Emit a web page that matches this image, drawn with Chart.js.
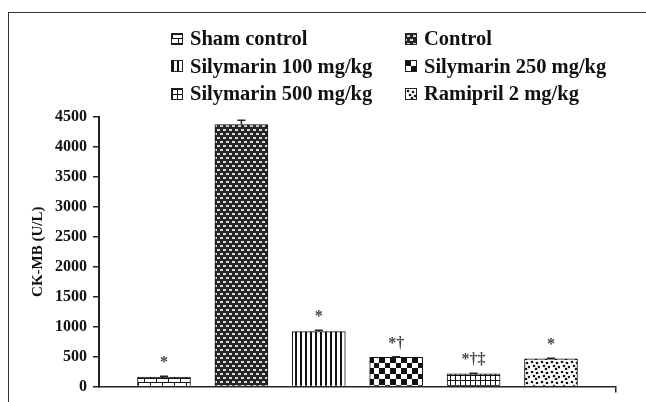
<!DOCTYPE html>
<html>
<head>
<meta charset="utf-8">
<script src="https://cdn.jsdelivr.net/npm/chart.js@4.4.1/dist/chart.umd.min.js"></script>
<style>
  html, body { margin: 0; padding: 0; background: #fff; }
  #wrap { position: relative; width: 646px; height: 402px; overflow: hidden; }
  #frame { position: absolute; left: 8px; top: 12px; width: 700px; height: 500px;
           border-left: 1.5px solid #333; border-top: 1.5px solid #333; }
  #chart { position: absolute; left: 0; top: 0; }
  #legend { position: absolute; left: 0; top: 0; width: 646px; height: 110px;
            font-family: "Liberation Serif", "Times New Roman", serif; font-weight: bold;
            font-size: 20.5px; color: #111; }
  .item { position: absolute; display: flex; align-items: center; white-space: nowrap; }
  .item canvas { border: 1px solid #222; margin-right: 7px; }
</style>
</head>
<body>
<div id="wrap">
  <div id="frame"></div>
  <canvas id="chart" width="646" height="402"></canvas>
  <div id="legend"></div>
</div>
<script>
// Groups, mean CK-MB (U/L), SEM and significance marks
const groups = ["Sham control", "Control", "Silymarin 100 mg/kg", "Silymarin 250 mg/kg", "Silymarin 500 mg/kg", "Ramipril 2 mg/kg"];
const ckmb = [155, 4375, 915, 485, 210, 460];
const sem = [15, 70, 25, 10, 10, 10];
const marks = ["*", "", "*", "*\u2020", "*\u2020\u2021", "*"];
const yTicks = [0, 500, 1000, 1500, 2000, 2500, 3000, 3500, 4000, 4500];
const fills = ["brick", "weave", "vstripe", "checker", "grid", "dots"];

function tile(w, h, paint) {
  const c = document.createElement("canvas");
  c.width = w; c.height = h;
  const g = c.getContext("2d");
  g.fillStyle = "#fff"; g.fillRect(0, 0, w, h);
  paint(g);
  return c;
}
const painters = {
  brick: () => tile(12, 9, g => {
    g.fillStyle = "#111";
    g.fillRect(0, 0, 12, 1); g.fillRect(0, 4, 12, 1);
    g.fillRect(0, 0, 1, 5); g.fillRect(6, 4, 1, 5);
  }),
  weave: () => tile(6, 8, g => {
    g.fillStyle = "#262626"; g.fillRect(0, 0, 6, 8);
    g.fillStyle = "#d8d8d8";
    g.fillRect(1, 1, 3, 2);
    g.fillRect(4, 5, 2, 2); g.fillRect(0, 5, 1, 2);
  }),
  vstripe: () => tile(5, 4, g => { g.fillStyle = "#111"; g.fillRect(0, 0, 2, 4); }),
  checker: () => tile(11, 11, g => {
    g.fillStyle = "#111"; g.fillRect(0, 0, 5, 5); g.fillRect(5, 5, 6, 6);
  }),
  grid: () => tile(5, 5, g => {
    g.fillStyle = "#111"; g.fillRect(0, 0, 5, 1); g.fillRect(0, 0, 1, 5);
  }),
  dots: () => tile(10, 10, g => {
    g.fillStyle = "#111";
    [[1, 1], [6, 2], [3, 5], [8, 6], [5, 8]].forEach(([x, y]) => {
      g.beginPath(); g.arc(x + 1, y + 1, 1.3, 0, Math.PI * 2); g.fill();
    });
  })
};
const ctx = document.getElementById("chart").getContext("2d");
const patterns = fills.map(f => ctx.createPattern(painters[f](), "repeat"));

// legend: two columns, three rows
const legend = document.getElementById("legend");
groups.forEach((name, i) => {
  const col = i % 2, row = Math.floor(i / 2);
  const el = document.createElement("div");
  el.className = "item";
  el.style.left = (col ? 405 : 171) + "px";
  el.style.top = (27 + row * 27.5) + "px";
  const ic = document.createElement("canvas");
  ic.width = 10; ic.height = 10;
  const ig = ic.getContext("2d");
  ig.fillStyle = ig.createPattern(painters[fills[i]](), "repeat");
  ig.fillRect(0, 0, 10, 10);
  el.appendChild(ic);
  const t = document.createElement("span");
  t.textContent = name;
  el.appendChild(t);
  legend.appendChild(el);
});

const errorAndMarks = {
  id: "errorAndMarks",
  afterDatasetsDraw(chart) {
    const g = chart.ctx, ys = chart.scales.y, xs = chart.scales.x;
    g.save();
    ckmb.forEach((v, i) => {
      const x = xs.getPixelForValue(i);
      const yTop = ys.getPixelForValue(v + sem[i]);
      const yMid = ys.getPixelForValue(v);
      g.strokeStyle = "#222"; g.lineWidth = 1.5;
      g.beginPath();
      g.moveTo(x, yMid); g.lineTo(x, yTop);
      g.moveTo(x - 4, yTop); g.lineTo(x + 4, yTop);
      g.stroke();
      if (marks[i]) {
        g.fillStyle = "#444";
        g.font = "bold 16px 'Liberation Serif', serif";
        g.textAlign = "center"; g.textBaseline = "alphabetic";
        g.fillText(marks[i], x, yTop - 9);
      }
    });
    g.restore();
  }
};

new Chart(ctx, {
  type: "bar",
  data: {
    datasets: [{
      data: ckmb.map((v, i) => ({ x: i, y: v })),
      backgroundColor: patterns,
      borderColor: "#111",
      borderWidth: 1,
      borderSkipped: "bottom",
      barThickness: 53
    }]
  },
  options: {
    responsive: false,
    animation: false,
    events: [],
    layout: { padding: { top: 117, right: 30, left: 0, bottom: 0 } },
    plugins: { legend: { display: false }, tooltip: { enabled: false } },
    scales: {
      x: {
        type: "linear",
        offset: false,
        min: -0.84, max: 5.84,
        afterBuildTicks: s => { s.ticks = [{ value: s.max }]; },
        afterFit: s => { s.height = 10; },
        ticks: { callback: () => "" },
        grid: { offset: false, drawOnChartArea: false, drawTicks: true, tickLength: 6, color: "#222", lineWidth: 1.5 },
        border: { color: "#222", width: 1.5 }
      },
      y: {
        min: 0, max: 4500,
        afterBuildTicks: s => { s.ticks = yTicks.map(v => ({ value: v })); },
        afterFit: s => { s.width = 99; },
        ticks: {
          color: "#111", padding: 6, callback: v => String(v),
          font: { family: "'Liberation Serif', serif", weight: "bold", size: 16 }
        },
        grid: { drawOnChartArea: false, drawTicks: true, tickLength: 6, color: "#222", lineWidth: 1.5 },
        border: { color: "#222", width: 2 },
        title: {
          display: true, text: "CK-MB (U/L)", color: "#111", padding: { top: 29, bottom: 0 },
          font: { family: "'Liberation Serif', serif", weight: "bold", size: 15 }
        }
      }
    }
  },
  plugins: [errorAndMarks]
});
</script>
</body>
</html>
